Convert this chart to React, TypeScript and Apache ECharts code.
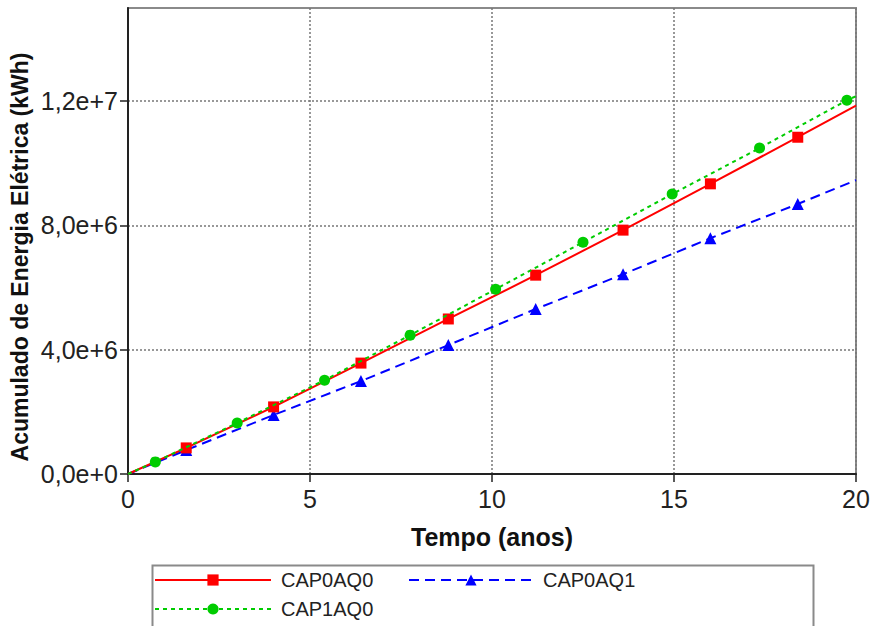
import React, { useEffect, useRef } from "react";
import * as echarts from "echarts";

const redX = [0, 1.6, 4.0, 6.4, 8.8, 11.2, 13.6, 16.0, 18.4, 20];
const redY = [0, 0.84e6, 2.16e6, 3.57e6, 4.99e6, 6.40e6, 7.85e6, 9.34e6, 10.84e6, 11.86e6];
const greenX = [0, 0.75, 3.0, 5.4, 7.75, 10.1, 12.5, 14.95, 17.35, 19.75, 20];
const greenY = [0, 0.39e6, 1.64e6, 3.02e6, 4.47e6, 5.95e6, 7.46e6, 9.01e6, 10.49e6, 12.03e6, 12.16e6];
const blueX = [0, 1.6, 4.0, 6.4, 8.8, 11.2, 13.6, 16.0, 18.4, 20];
const blueY = [0, 0.77e6, 1.90e6, 2.99e6, 4.15e6, 5.31e6, 6.43e6, 7.59e6, 8.69e6, 9.46e6];
const seriesNames = ["CAP0AQ0", "CAP0AQ1", "CAP1AQ0"];
const yTicks = [0, 4e6, 8e6, 1.2e7];
const xTitle = "Tempo (anos)";
const yTitle = "Acumulado de Energia Elétrica (kWh)";

const FONT = "'Liberation Sans', Arial, sans-serif";

function build(xs: number[], ys: number[], lastMarker: boolean) {
  return xs.map((x, i) => {
    const hide = i === 0 || (!lastMarker && i === xs.length - 1);
    return hide ? { value: [x, ys[i]], symbol: "none" } : { value: [x, ys[i]] };
  });
}

function fmtY(v: number) {
  if (v === 0) return "0,0e+0";
  const e = Math.floor(Math.log10(v) + 1e-9);
  const m = v / Math.pow(10, e);
  return m.toFixed(1).replace(".", ",") + "e+" + e;
}

export default function App() {
  const ref = useRef<HTMLDivElement>(null);
  useEffect(() => {
    const chart = echarts.init(ref.current!, null, { renderer: "svg" });
    const legendText = { fontFamily: FONT, fontSize: 20, color: "#222", padding: [0, 0, 0, 5] };
    chart.setOption({
      animation: false,
      backgroundColor: "#fff",
      grid: {
        left: 128,
        right: 18,
        top: 8,
        bottom: 152,
        show: true,
        borderColor: "#8a8a8a",
        borderWidth: 2,
      },
      xAxis: {
        type: "value",
        min: 0,
        max: 20,
        interval: 5,
        name: xTitle,
        nameLocation: "middle",
        nameGap: 50,
        nameTextStyle: { fontFamily: FONT, fontSize: 25, fontWeight: "bold", color: "#111" },
        axisLine: { show: true, onZero: false, lineStyle: { color: "#222", width: 2 } },
        axisTick: { show: true, inside: false, length: 8, lineStyle: { color: "#222", width: 1.5 } },
        axisLabel: { fontFamily: FONT, fontSize: 25, color: "#222", margin: 12 },
        splitLine: { show: true, lineStyle: { color: "#777", type: [2, 2], width: 1.5 } },
      },
      yAxis: {
        type: "value",
        min: 0,
        max: 1.5e7,
        interval: 4e6,
        axisLine: { show: true, onZero: false, lineStyle: { color: "#222", width: 2 } },
        axisTick: { show: true, inside: false, length: 8, customValues: yTicks, lineStyle: { color: "#222", width: 1.5 } },
        axisLabel: {
          fontFamily: FONT,
          fontSize: 25,
          color: "#222",
          margin: 10,
          customValues: yTicks,
          formatter: (v: number) => fmtY(v),
        },
        splitLine: { show: true, lineStyle: { color: "#777", type: [2, 2], width: 1.5 } },
      },
      legend: [
        {
          data: [seriesNames[0]],
          left: 154,
          top: 570,
          padding: 0,
          itemWidth: 116,
          itemHeight: 14,
          textStyle: legendText,
        },
        {
          data: [seriesNames[1]],
          left: 408,
          top: 570,
          padding: 0,
          itemWidth: 124,
          itemHeight: 14,
          textStyle: legendText,
        },
        {
          data: [seriesNames[2]],
          left: 154,
          top: 599,
          padding: 0,
          itemWidth: 116,
          itemHeight: 14,
          textStyle: legendText,
        },
      ],
      graphic: [
        {
          type: "rect",
          left: 150,
          top: 563,
          shape: { width: 661, height: 80 },
          style: { fill: "none", stroke: "#8a8a8a", lineWidth: 2 },
          z: -1,
          silent: true,
        },
        {
          type: "text",
          x: 20,
          y: 257,
          rotation: Math.PI / 2,
          style: {
            text: yTitle,
            fontFamily: FONT,
            fontSize: 23,
            fontWeight: "bold",
            fill: "#111",
            align: "center",
            verticalAlign: "middle",
          },
          silent: true,
        },
      ],
      series: [
        {
          name: seriesNames[0],
          type: "line",
          data: build(redX, redY, false),
          symbol: "rect",
          symbolSize: 11,
          color: "#ff0000",
          itemStyle: { color: "#ff0000" },
          lineStyle: { color: "#ff0000", width: 2, type: "solid" },
          z: 3,
        },
        {
          name: seriesNames[1],
          type: "line",
          data: build(blueX, blueY, false),
          symbol: "triangle",
          symbolSize: 12,
          color: "#0000ff",
          itemStyle: { color: "#0000ff" },
          lineStyle: { color: "#0000ff", width: 2, type: [10, 6] },
          z: 2,
        },
        {
          name: seriesNames[2],
          type: "line",
          data: build(greenX, greenY, false).map((d, i) =>
            i === greenX.length - 2 ? { value: d.value } : d
          ),
          symbol: "circle",
          symbolSize: 11,
          color: "#00cc00",
          itemStyle: { color: "#00cc00" },
          lineStyle: { color: "#00cc00", width: 2, type: [4, 4] },
          z: 4,
        },
      ],
    });
    return () => chart.dispose();
  }, []);
  return <div ref={ref} style={{ width: 874, height: 626, position: "absolute", left: 0, top: 0 }} />;
}
